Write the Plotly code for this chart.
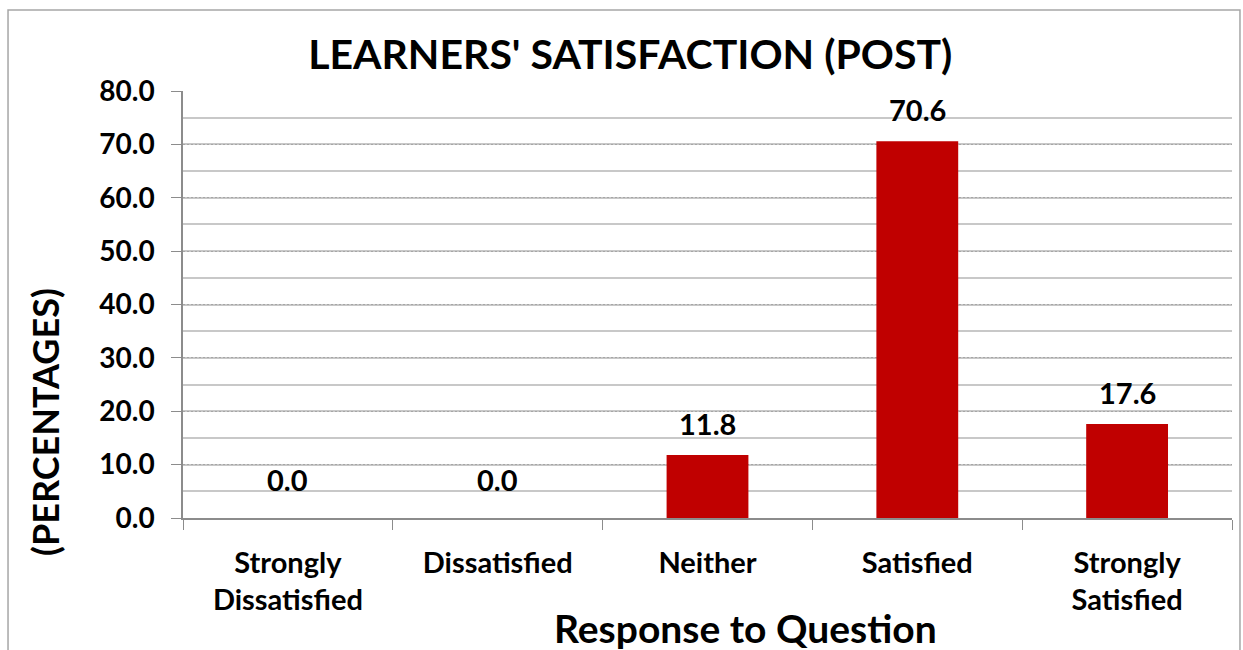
import plotly.graph_objects as go

categories = ["Strongly<br>Dissatisfied", "Dissatisfied", "Neither", "Satisfied", "Strongly<br>Satisfied"]
values = [0.0, 0.0, 11.8, 70.6, 17.6]
y_ticks = [0, 10, 20, 30, 40, 50, 60, 70, 80]

FONT = "Lato"
fig = go.Figure()
fig.add_trace(go.Bar(x=categories, y=values, marker=dict(color="#C00000", line=dict(width=0)),
                     width=0.39, hoverinfo="skip"))

for c, v in zip(categories, values):
    fig.add_annotation(x=c, y=v, text=f"{v:.1f}", showarrow=False, yanchor="bottom",
                       yshift=19 if v == 0 else 12,
                       font=dict(family=FONT, size=29, color="black", weight="bold"))

fig.add_annotation(xref="paper", yref="paper", x=0.5, y=-0.2, text="Response to Question",
                   showarrow=False, yanchor="top", xshift=38,
                   font=dict(family=FONT, size=39, color="black", weight="bold"))
fig.add_annotation(xref="paper", yref="paper", x=-0.1316, y=0.225, text="(PERCENTAGES)",
                   showarrow=False, textangle=-90, xanchor="center", yanchor="middle",
                   font=dict(family=FONT, size=36, color="black", weight="bold"))

fig.add_shape(type="rect", xref="paper", yref="paper", x0=-0.1668, x1=1.0076, y0=-0.4, y1=1.1897,
              line=dict(color="#A6A6A6", width=1.5), fillcolor="rgba(0,0,0,0)", layer="below")

fig.update_layout(
    width=1243, height=650,
    margin=dict(l=183, r=11, t=91, b=132),
    paper_bgcolor="white", plot_bgcolor="white",
    showlegend=False,
    title=dict(text="LEARNERS' SATISFACTION (POST)", x=0.507, xref="container", xanchor="center",
               y=1 - 55 / 650, yref="container", yanchor="middle",
               font=dict(family=FONT, size=41, color="black", weight="bold")),
    xaxis=dict(type="category", tickson="boundaries", ticks="outside", ticklen=10,
               tickcolor="#8C8C8C", showline=True, linecolor="#8C8C8C", linewidth=1.5,
               showgrid=False, ticklabelstandoff=18,
               tickfont=dict(family=FONT, size=29, color="black", weight="bold")),
    yaxis=dict(range=[0, 80], tickvals=y_ticks, tickformat=".1f", ticks="outside", ticklen=10,
               tickcolor="#8C8C8C", showline=True, linecolor="#8C8C8C", linewidth=1.5,
               showgrid=True, gridcolor="#A6A6A6", griddash="2px,2px", gridwidth=1,
               zeroline=False, ticklabelstandoff=11,
               minor=dict(dtick=5, showgrid=True, gridcolor="#C8C8C8", griddash="solid",
                          gridwidth=1.5, ticks=""),
               tickfont=dict(family=FONT, size=28, color="black", weight="bold")),
)

fig.write_html("out.html", config={"displayModeBar": False},
               post_script="document.body.style.margin='0';document.body.style.overflow='hidden';")
